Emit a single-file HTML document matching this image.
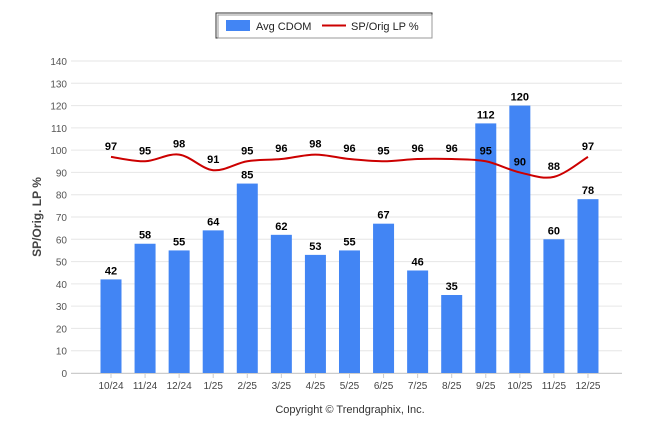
<!DOCTYPE html>
<html><head><meta charset="utf-8"><style>
body{margin:0;background:#fff;width:646px;height:434px;overflow:hidden;font-family:"Liberation Sans",sans-serif}
</style></head><body>
<svg id="c" width="646" height="434" xmlns="http://www.w3.org/2000/svg"></svg>
<script>
const categories=["10/24","11/24","12/24","1/25","2/25","3/25","4/25","5/25","6/25","7/25","8/25","9/25","10/25","11/25","12/25"];
const cdom=[42,58,55,64,85,62,53,55,67,46,35,112,120,60,78];
const splp=[97,95,98,91,95,96,98,96,95,96,96,95,90,88,97];
const yTicks=[0,10,20,30,40,50,60,70,80,90,100,110,120,130,140];
const svg=document.getElementById('c');
const NS='http://www.w3.org/2000/svg';
const y=v=>373-v*(312/140);
const x=i=>111+i*34.07;
function el(t,a,txt){const e=document.createElementNS(NS,t);for(const k in a)e.setAttribute(k,a[k]);if(txt!==undefined)e.textContent=txt;svg.appendChild(e);return e;}
yTicks.forEach(v=>{
 const g=el('line',{x1:71,x2:622,y1:y(v),y2:y(v),stroke:'#e6e6e6','stroke-width':1});
 
 const t=el('text',{x:67,y:y(v)+4,'text-anchor':'end','font-size':10,fill:'#555'},v);
 
});
const ax=el('line',{x1:71,x2:622,y1:373.5,y2:373.5,stroke:'#ccc'});

categories.forEach((c,i)=>{
 const tk=el('line',{x1:x(i),x2:x(i),y1:373,y2:378,stroke:'#ccc'});
 
 const t=el('text',{x:x(i),y:389,'text-anchor':'middle','font-size':10,fill:'#444'},c);
 
});
cdom.forEach((v,i)=>{
 const b=el('rect',{x:x(i)-10.5,y:y(v),width:21,height:y(0)-y(v),fill:'#4285f4'});
 
 const t=el('text',{x:x(i),y:y(v)-5,'text-anchor':'middle','font-size':11,'font-weight':'bold',fill:'#000'},v);
 
});
const pts=splp.map((v,i)=>[x(i),y(v)]);
let d='M'+pts[0][0]+','+pts[0][1];
for(let i=0;i<pts.length-1;i++){
 const p0=pts[Math.max(0,i-1)],p1=pts[i],p2=pts[i+1],p3=pts[Math.min(pts.length-1,i+2)];
 const c1=[p1[0]+(p2[0]-p0[0])/6,p1[1]+(p2[1]-p0[1])/6],c2=[p2[0]-(p3[0]-p1[0])/6,p2[1]-(p3[1]-p1[1])/6];
 d+=' C'+c1+' '+c2+' '+p2;
}
const ln=el('path',{d:d,fill:'none',stroke:'#cc0000','stroke-width':2});

splp.forEach((v,i)=>{
 const t=el('text',{x:x(i),y:y(v)-7,'text-anchor':'middle','font-size':11,'font-weight':'bold',fill:'#000'},v);
 
});
</script>
<svg style="position:absolute;left:0;top:0" width="646" height="434" xmlns="http://www.w3.org/2000/svg">
<g>
<rect x="216" y="13" width="216" height="25" fill="#fff" stroke="#333"/>
<rect x="218" y="15" width="214" height="23" fill="none" stroke="#999" stroke-width="1"/>
<rect x="226" y="20" width="24" height="11" fill="#4285f4"/>
<text x="256" y="30" font-size="11" fill="#222">Avg CDOM</text>
<line x1="322" x2="346" y1="25.5" y2="25.5" stroke="#cc0000" stroke-width="2"/>
<text x="351" y="30" font-size="11" fill="#222">SP/Orig LP %</text>
</g>
<text transform="translate(41,217) rotate(-90)" text-anchor="middle" font-size="12" font-weight="bold" fill="#444">SP/Orig. LP %</text>
<text x="350" y="413" text-anchor="middle" font-size="11" fill="#333">Copyright © Trendgraphix, Inc.</text>
</svg>
</body></html>
